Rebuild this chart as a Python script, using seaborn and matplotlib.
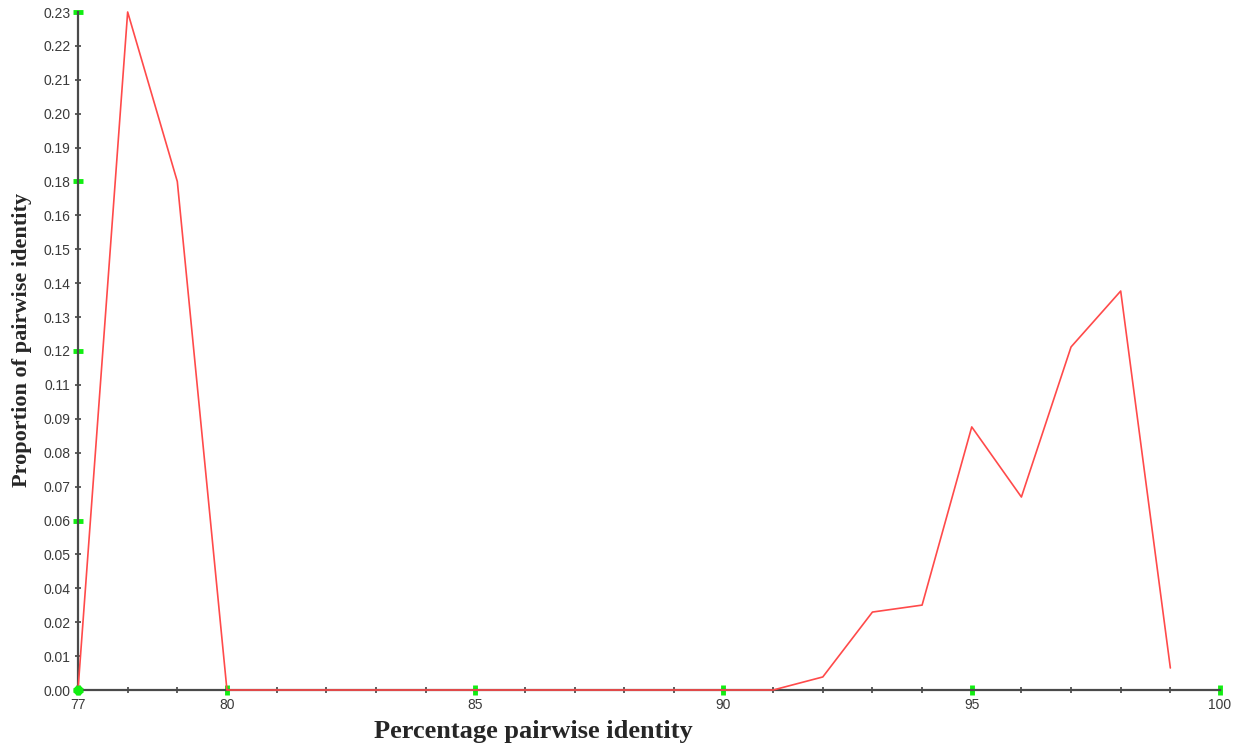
import numpy as np
import matplotlib
matplotlib.use("Agg")
import matplotlib.pyplot as plt
import seaborn as sns

# data
identity = [77, 78, 79, 80, 81, 82, 83, 84, 85, 86, 87, 88,
            89, 90, 91, 92, 93, 94, 95, 96, 97, 98, 99]
proportion = [0.0, 0.234, 0.1755, 0.0, 0.0, 0.0, 0.0, 0.0, 0.0, 0.0, 0.0, 0.0,
              0.0, 0.0, 0.0, 0.0045, 0.0269, 0.0293, 0.0908, 0.0666, 0.1184, 0.1377, 0.0076]

x_ticks = list(range(77, 101))
x_labelled = [77, 80, 85, 90, 95, 100]
y_max = 0.234
y_tick_labels = ['0.00', '0.01', '0.02', '0.04', '0.05', '0.06', '0.07', '0.08',
                 '0.09', '0.11', '0.12', '0.13', '0.14', '0.15', '0.16', '0.18',
                 '0.19', '0.20', '0.21', '0.22', '0.23']

sns.set_style("white")
plt.rcParams['font.family'] = ['Liberation Sans Narrow', 'Liberation Sans', 'DejaVu Sans']

fig = plt.figure(figsize=(12.43, 7.44), dpi=100)
ax = fig.add_axes([78/1243, 54/744, (1220-78)/1243, (690-12)/744])

sns.lineplot(x=identity, y=proportion, ax=ax, color='#ff4a4a', linewidth=1.2,
             zorder=5, clip_on=False)

ax.set_xlim(77, 100)
ax.set_ylim(0, y_max)

for s in ['top', 'right']:
    ax.spines[s].set_visible(False)
for s in ['left', 'bottom']:
    ax.spines[s].set_color('#4a4a4a')
    ax.spines[s].set_linewidth(1.6)

ax.set_xticks(x_ticks)
ax.set_xticklabels([str(v) if v in x_labelled else '' for v in x_ticks])
y_ticks = np.linspace(0, y_max, len(y_tick_labels))
ax.set_yticks(y_ticks)
ax.set_yticklabels(y_tick_labels)

ax.tick_params(axis='both', direction='inout', length=5, width=1.1,
               color='#333333', labelsize=10, labelcolor='#3a3a3a',
               bottom=True, left=True, pad=3)

# the major (labelled) ticks are drawn as green blobs
green = '#11ee11'
for t, v in zip(ax.xaxis.get_major_ticks(), x_ticks):
    if v in x_labelled:
        t.tick1line.set_markeredgecolor(green)
        t.tick1line.set_markeredgewidth(3.5)
        t.tick1line.set_markersize(7)
for i, t in enumerate(ax.yaxis.get_major_ticks()):
    if i % 5 == 0:
        t.tick1line.set_markeredgecolor(green)
        t.tick1line.set_markeredgewidth(3.5)
        t.tick1line.set_markersize(7)
ax.plot([77], [0], 'o', color=green, markersize=6, clip_on=False, zorder=6)

fig.text(22/1243, (744-340)/744, 'Proportion of pairwise identity',
         rotation=90, ha='center', va='center', fontsize=16,
         fontweight='heavy', family=['Liberation Serif', 'DejaVu Serif'])
fig.text(533/1243, (744-720)/744, 'Percentage pairwise identity',
         ha='center', va='top', fontsize=19,
         fontweight='heavy', family=['Liberation Serif', 'DejaVu Serif'])

fig.savefig('out.png', dpi=100)
